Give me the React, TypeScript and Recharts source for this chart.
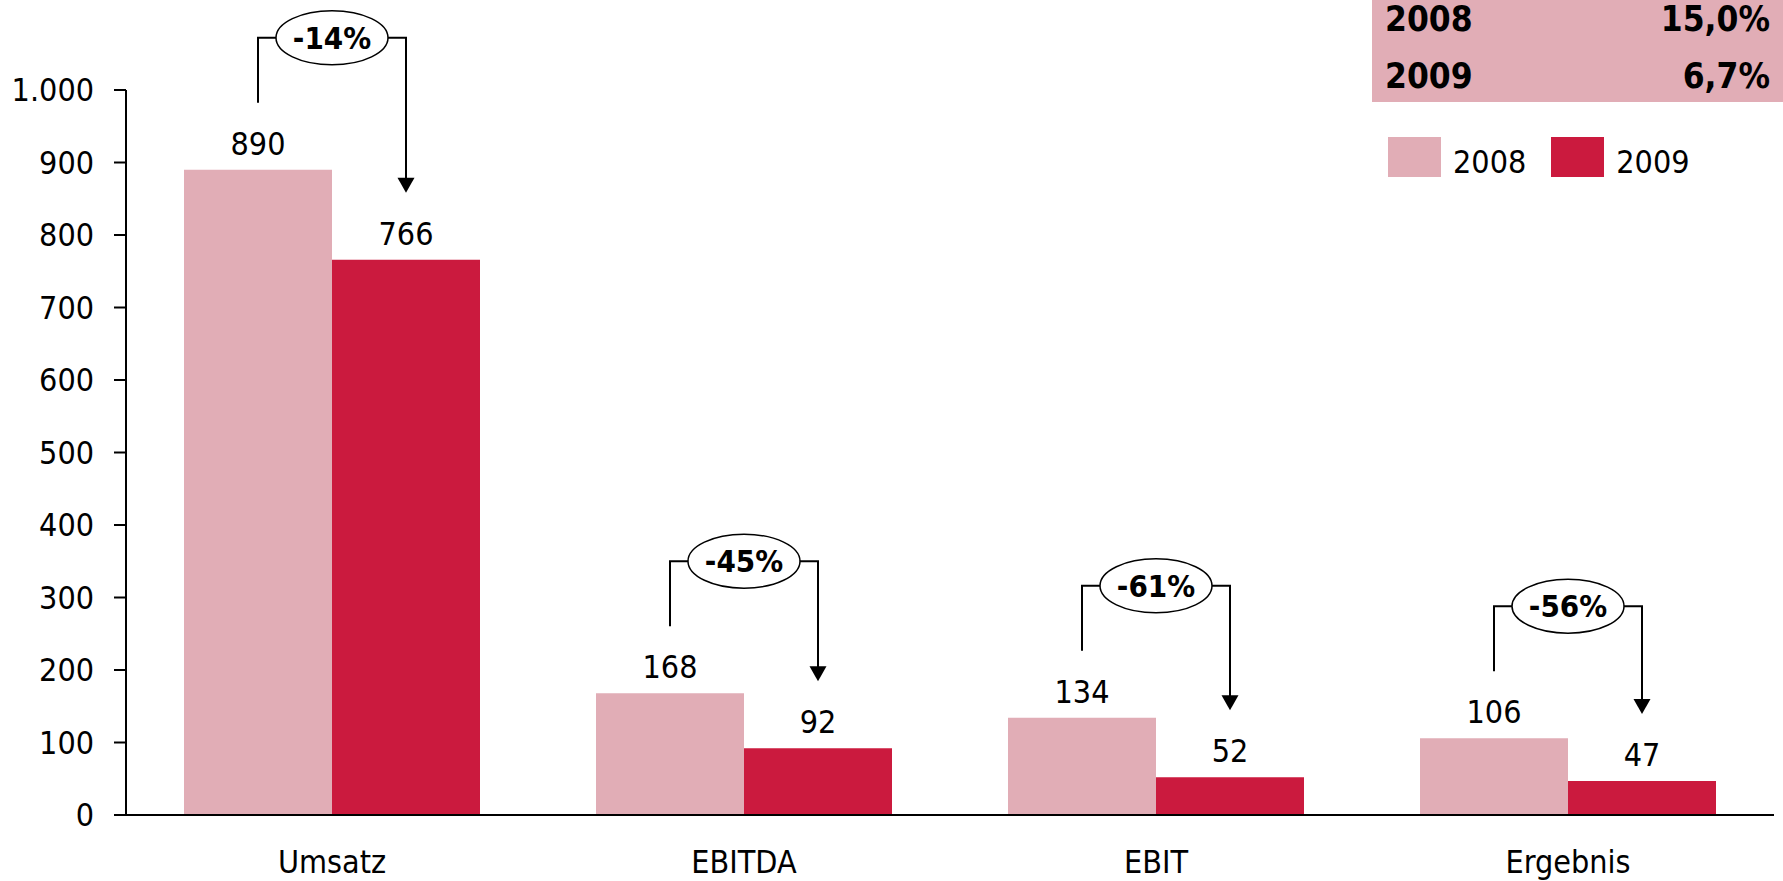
import React from 'react';
import { BarChart, Bar, XAxis, YAxis, Legend, LabelList } from 'recharts';

const categories = ['Umsatz', 'EBITDA', 'EBIT', 'Ergebnis'];
const values2008 = [890, 168, 134, 106];
const values2009 = [766, 92, 52, 47];
const changes = ['-14%', '-45%', '-61%', '-56%'];
const yTicks = [0, 100, 200, 300, 400, 500, 600, 700, 800, 900, 1000];
const marginYears = ['2008', '2009'];
const marginValues = ['15,0%', '6,7%'];

const FONT = '"DejaVu Sans Condensed", "DejaVu Sans", sans-serif';
const PINK = '#e1adb6';
const RED = '#cb1a3e';

const data = categories.map((name, i) => ({
  name,
  y2008: values2008[i],
  y2009: values2009[i],
}));

const fmt = (v: number) => v.toLocaleString('de-DE');

// bracket with arrow from the 2008 bar to the 2009 bar
const ChangeBracket = (props: any) => {
  const vb = props.viewBox || props;
  const { x, y, width, height } = vb;
  const i = props.index;
  if (x == null || i == null) return null;
  const base = y + height;
  const y2 = base - values2009[i] * (height / values2008[i]);
  const lx = x + width / 2;
  const rx = x + width * 1.5;
  const cx = (lx + rx) / 2;
  const hy = y - 132;
  const tip = y2 - 67;
  return (
    <g>
      <polyline
        points={`${lx},${y - 67} ${lx},${hy} ${rx},${hy} ${rx},${tip - 14}`}
        fill="none"
        stroke="#000"
        strokeWidth={2}
      />
      <polygon points={`${rx - 8.5},${tip - 15} ${rx + 8.5},${tip - 15} ${rx},${tip}`} fill="#000" />
      <ellipse cx={cx} cy={hy} rx={56} ry={27} fill="#fff" stroke="#000" strokeWidth={1.5} />
      <text
        x={cx}
        y={hy + 11}
        textAnchor="middle"
        fontFamily={FONT}
        fontWeight="bold"
        fontSize={31}
        fill="#000"
      >
        {changes[i]}
      </text>
    </g>
  );
};

const LegendContent = (props: any) => {
  const { payload } = props;
  return (
    <div style={{ display: 'flex', alignItems: 'flex-start', fontFamily: FONT, fontSize: 32 }}>
      {payload.map((p: any) => (
        <div key={p.value} style={{ display: 'flex', alignItems: 'flex-start', marginRight: 25 }}>
          <div style={{ width: 53, height: 40, background: p.color }} />
          <span style={{ marginLeft: 12, marginTop: 6, lineHeight: 'normal', color: '#000' }}>{p.value}</span>
        </div>
      ))}
    </div>
  );
};

export default function App() {
  return (
    <div style={{ position: 'fixed', left: 0, top: 0, width: 1783, height: 881, background: '#fff', overflow: 'hidden' }}>
      <div
        style={{
          position: 'absolute',
          left: 1372,
          top: 0,
          width: 411,
          height: 102,
          background: PINK,
          fontFamily: FONT,
          fontWeight: 'bold',
          fontSize: 35,
          color: '#000',
        }}
      >
        {marginYears.map((yr, i) => (
          <div key={yr} style={{ position: 'absolute', left: 13, right: 13, top: 2 + i * 57, lineHeight: '35px', display: 'flex', justifyContent: 'space-between' }}>
            <span>{yr}</span>
            <span>{marginValues[i]}</span>
          </div>
        ))}
      </div>
      <BarChart
        width={1783}
        height={881}
        data={data}
        margin={{ top: 90, right: 9, left: 0, bottom: 6 }}
        barCategoryGap={58}
        barGap={0}
      >
        <XAxis
          dataKey="name"
          axisLine={{ stroke: '#000', strokeWidth: 2 }}
          tickLine={false}
          tickSize={0}
          tickMargin={35}
          height={60}
          tick={{ fill: '#000', fontSize: 32, fontFamily: FONT }}
        />
        <YAxis
          domain={[0, 1000]}
          ticks={yTicks}
          width={126}
          tickFormatter={fmt}
          axisLine={{ stroke: '#000', strokeWidth: 2 }}
          tickLine={{ stroke: '#000', strokeWidth: 2 }}
          tickSize={12}
          tickMargin={20}
          interval={0}
          tick={{ fill: '#000', fontSize: 32, fontFamily: FONT }}
        />
        <Legend
          layout="horizontal"
          verticalAlign="middle"
          align="center"
          content={<LegendContent />}
          wrapperStyle={{ position: 'absolute', top: 137, left: 1388, width: 'auto', height: 'auto' }}
        />
        <Bar dataKey="y2008" name="2008" fill={PINK} isAnimationActive={false}>
          <LabelList dataKey="y2008" position="top" offset={15} fill="#000" fontSize={32} fontFamily={FONT} />
          <LabelList dataKey="y2008" content={<ChangeBracket />} />
        </Bar>
        <Bar dataKey="y2009" name="2009" fill={RED} isAnimationActive={false}>
          <LabelList dataKey="y2009" position="top" offset={15} fill="#000" fontSize={32} fontFamily={FONT} />
        </Bar>
      </BarChart>
    </div>
  );
}
